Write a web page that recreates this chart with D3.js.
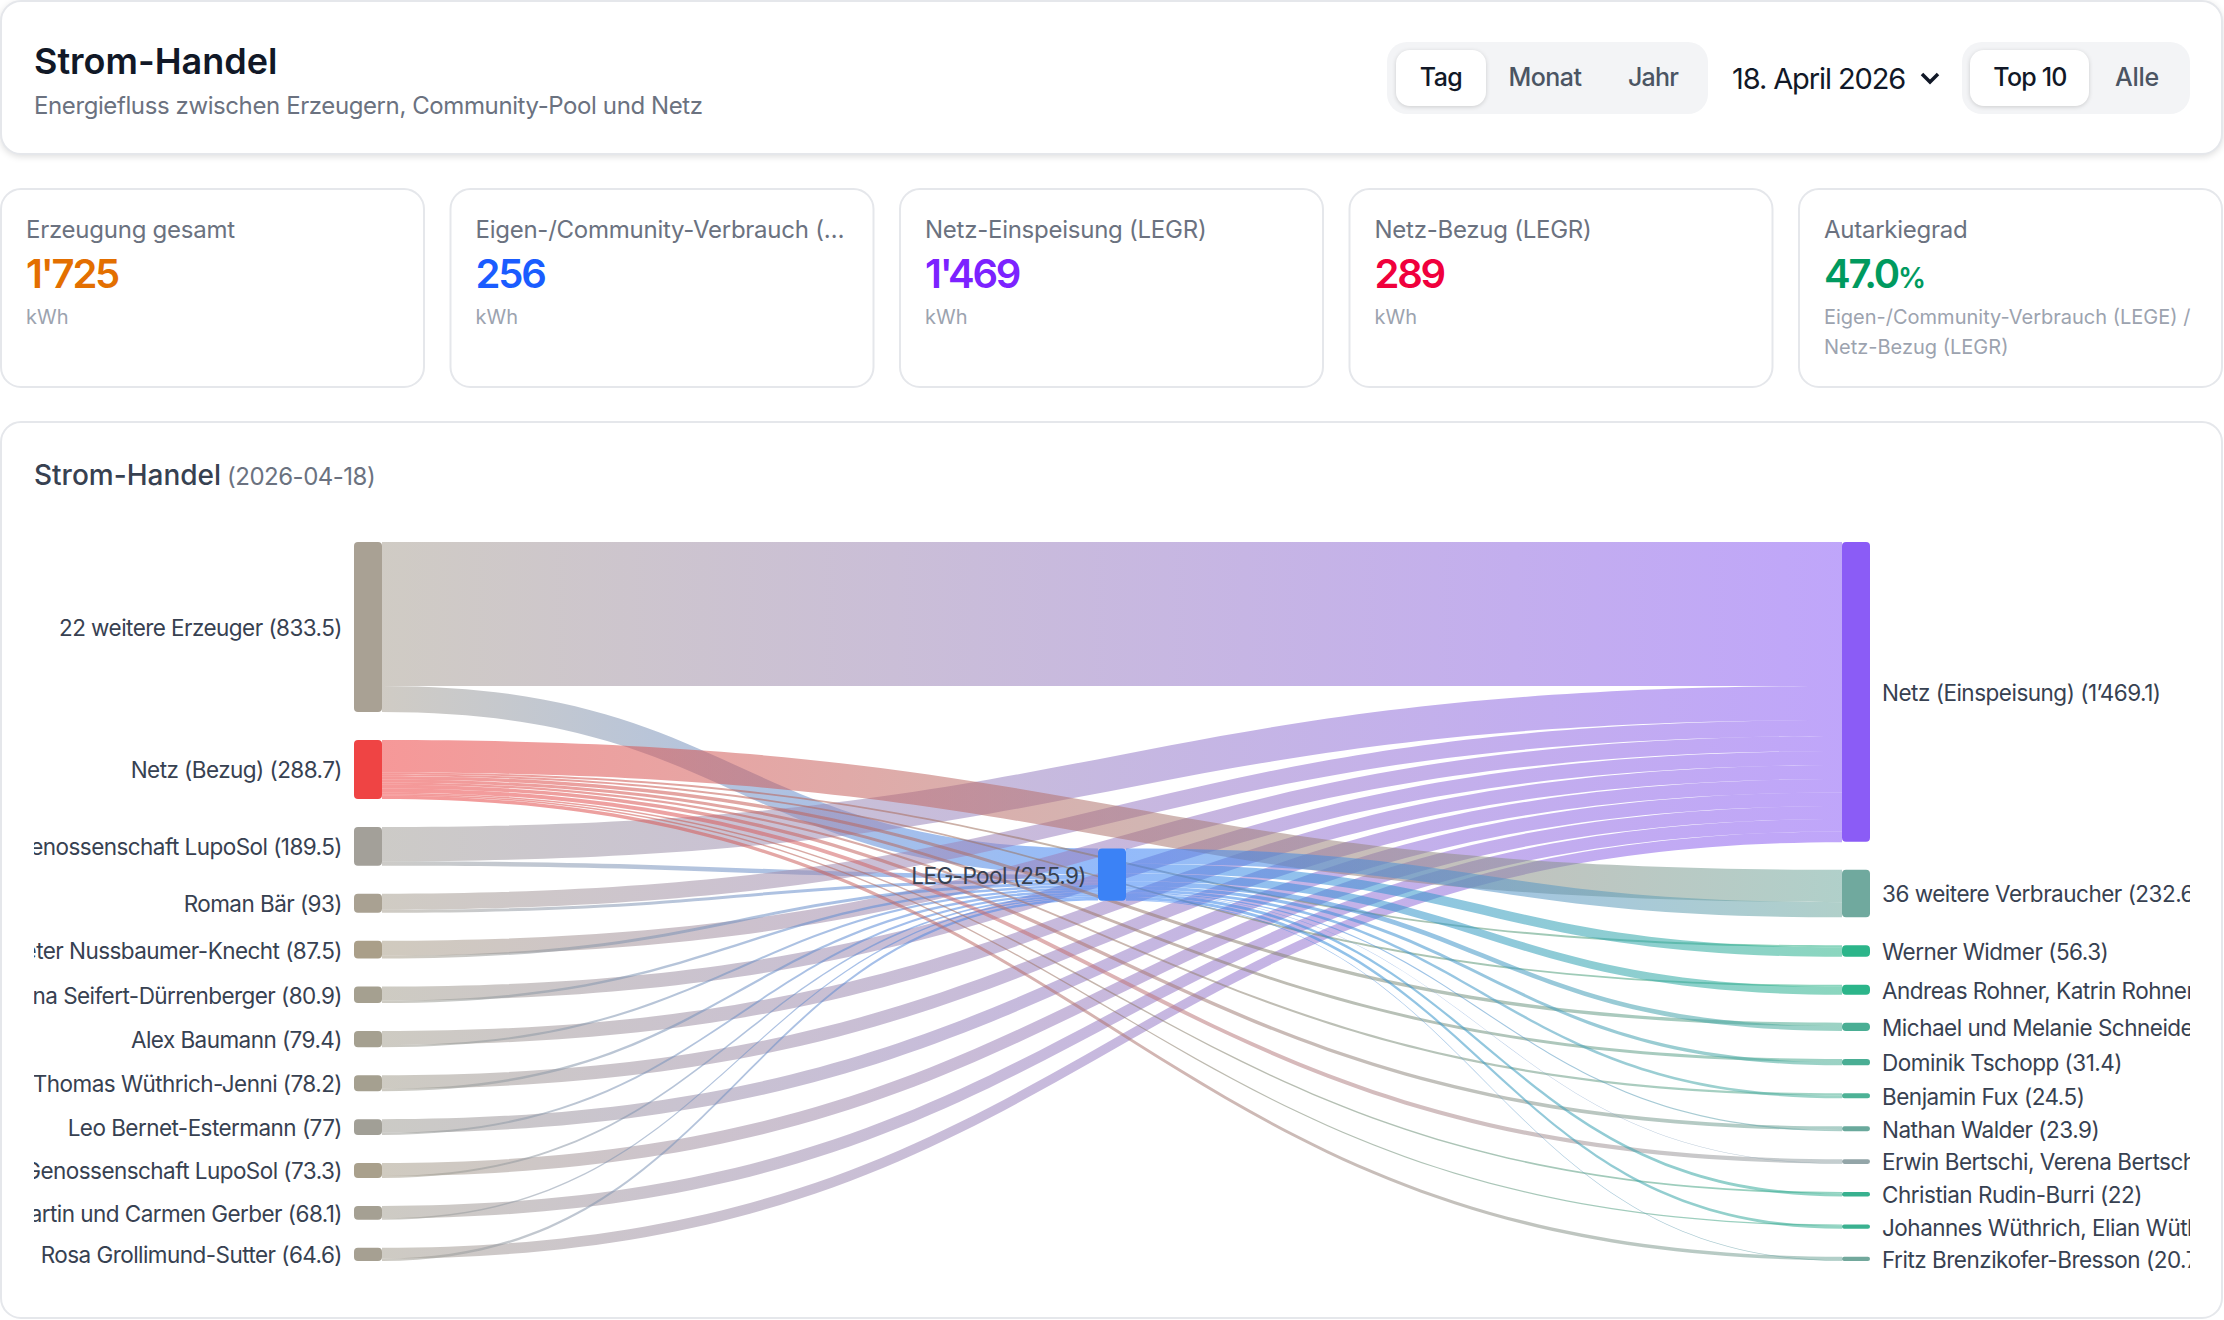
<!DOCTYPE html>
<html lang="de">
<head>
<meta charset="utf-8">
<title>Strom-Handel</title>
<script src="https://cdn.jsdelivr.net/npm/d3@7.9.0/dist/d3.min.js"></script>
<style>
  html, body { margin: 0; background: #fff; }
  svg { display: block; font-family: Inter, "Noto Sans", sans-serif; }
  .card { fill: #fff; stroke: #e5e7eb; stroke-width: 2; }
  .header-card { filter: drop-shadow(0 2px 3px rgba(0, 0, 0, 0.12)); }
  .pill { filter: drop-shadow(0 1px 2px rgba(0, 0, 0, 0.16)); }
</style>
</head>
<body>
<svg id="page" width="2224" height="1320"></svg>
<script>
// kpi cards
const kpiLabels = ["Erzeugung gesamt", "Eigen-/Community-Verbrauch (…", "Netz-Einspeisung (LEGR)", "Netz-Bezug (LEGR)", "Autarkiegrad"];
const kpiValues = ["1'725", "256", "1'469", "289", "47.0"];
const kpiColors = ["#e36f00", "#1a5cff", "#7c22ff", "#f0003c", "#009a5f"];

// left column
const producers = [
  "22 weitere Erzeuger", "Netz (Bezug)", "Genossenschaft LupoSol", "Roman Bär",
  "Peter Nussbaumer-Knecht", "Hanna Seifert-Dürrenberger", "Alex Baumann",
  "Thomas Wüthrich-Jenni", "Leo Bernet-Estermann", "Genossenschaft LupoSol",
  "Martin und Carmen Gerber", "Rosa Grollimund-Sutter",
];
const producerValues = [833.5, 288.7, 189.5, 93, 87.5, 80.9, 79.4, 78.2, 77, 73.3, 68.1, 64.6];
const producerToGrid = [705, 0, 167.7, 78.3, 73.5, 68.6, 68.6, 65.6, 66.6, 63.7, 60.7, 52.4];
const producerToPool = [128.5, 0, 21.8, 14.7, 14, 12.3, 10.8, 12.6, 10.4, 9.6, 7.4, 12.2];
const producerColors = ["#a9a194", "#ef4444", "#a3a099", "#a9a192", "#aa9f89", "#a5a090", "#a5a090", "#a5a090", "#a19f96", "#a9a08c", "#a5a093", "#a6a092"];

// right column, first entry is the grid
const consumers = [
  "Netz (Einspeisung)", "36 weitere Verbraucher", "Werner Widmer", "Andreas Rohner, Katrin Rohner",
  "Michael und Melanie Schneider", "Dominik Tschopp", "Benjamin Fux", "Nathan Walder",
  "Erwin Bertschi, Verena Bertschi", "Christian Rudin-Burri", "Johannes Wüthrich, Elian Wüthrich",
  "Fritz Brenzikofer-Bresson",
];
const consumerValues = [1469.1, 232.6, 56.3, 48.6, 40.2, 31.4, 24.5, 23.9, 23.1, 22, 21.3, 20.7];
const consumerFromBezug = [0, 158.4, 9, 9.2, 16.5, 14.7, 11, 18, 20.5, 7.7, 7, 16.7];
const consumerFromPool = [0, 74.2, 47.3, 39.4, 23.7, 16.7, 13.5, 5.9, 2.6, 14.3, 14.3, 4];
const consumerColors = ["#8b5cf6", "#70a99e", "#2cb58a", "#2cb58a", "#4aae94", "#4aae94", "#4db296", "#6aa99c", "#93a5a8", "#38b18f", "#3ab190", "#72a89c"];

const poolName = "LEG-Pool";
const poolValue = 255.9;
const poolColor = "#3b82f6";

// sankey geometry
const chartTop = 542;
const chartBottom = 1261;
const poolTop = 848.5;
const nodeWidth = 28;
const nodeGap = 28;
const linkOpacity = 0.55;

const svg = d3.select("#page");

function addText(x, y, str, size, weight, color, anchor, spacing) {
  return svg
    .append("text")
    .attr("x", x)
    .attr("y", y)
    .attr("font-size", size)
    .attr("font-weight", weight)
    .attr("fill", color)
    .attr("text-anchor", anchor || "start")
    .attr("letter-spacing", spacing || 0)
    .text(str);
}

function addPanel(x, y, w, h, r, cls) {
  return svg
    .append("rect")
    .attr("class", cls)
    .attr("x", x)
    .attr("y", y)
    .attr("width", w)
    .attr("height", h)
    .attr("rx", r);
}

// header
addPanel(1, 1, 2221, 153, 20, "card header-card");
addText(34, 73.5, "Strom-Handel", 36, 600, "#111827");
addText(34, 113.5, "Energiefluss zwischen Erzeugern, Community-Pool und Netz", 24, 400, "#6b7280", "start", -0.4);

function addSegment(x, w) {
  addPanel(x, 42, w, 72, 20).attr("fill", "#f3f4f6");
}
function addPill(x, w) {
  addPanel(x, 50, w, 56, 14, "pill").attr("fill", "#fff");
}
addSegment(1387, 321);
addPill(1396, 90);
addText(1441, 86, "Tag", 25, 500, "#111827", "middle", -0.5);
addText(1545, 86, "Monat", 25, 500, "#4b5563", "middle", -0.5);
addText(1653, 86, "Jahr", 25, 500, "#4b5563", "middle", -0.8);
addText(1732, 89, "18. April 2026", 29, 400, "#111827", "start", -1.1);
svg
  .append("path")
  .attr("d", d3.line()([[1922, 74], [1930, 82], [1938, 74]]))
  .attr("fill", "none")
  .attr("stroke", "#111827")
  .attr("stroke-width", 3.5);
addSegment(1962, 228);
addPill(1970, 119);
addText(2030, 86, "Top 10", 25, 500, "#111827", "middle", -0.8);
addText(2137, 86, "Alle", 25, 500, "#4b5563", "middle", -0.3);

// kpi row
const kpiX = d3.scaleBand().domain(d3.range(5)).range([0, 2223]).paddingInner(0.0545);
kpiLabels.forEach((label, i) => {
  const x = kpiX(i) + 1;
  addPanel(x, 189, kpiX.bandwidth() - 2, 198, 20, "card");
  addText(x + 25, 238, label, 24, 400, "#6b7280", "start", -0.25);
  const value = addText(x + 25, 288, kpiValues[i], 40, 600, kpiColors[i], "start", -2.2);
  if (i === 4) {
    value.append("tspan").attr("font-size", 28).attr("letter-spacing", -0.5).text("%");
    addText(x + 25, 324, "Eigen-/Community-Verbrauch (LEGE) /", 20, 400, "#9ca3af");
    addText(x + 25, 354, "Netz-Bezug (LEGR)", 20, 400, "#9ca3af");
  } else {
    addText(x + 25, 324, "kWh", 20, 400, "#9ca3af");
  }
});

// chart card
addPanel(1, 422, 2221, 896, 20, "card");
const chartTitle = addText(34, 484.5, "Strom-Handel", 28, 500, "#374151");
chartTitle
  .append("tspan")
  .attr("font-size", 24)
  .attr("font-weight", 400)
  .attr("fill", "#6b7280")
  .attr("dx", 6)
  .attr("letter-spacing", -0.5)
  .text("(2026-04-18)");

// sankey
const totalFlow = d3.sum(producerValues);
const flowHeight = chartBottom - chartTop - (producers.length - 1) * nodeGap;
const flow = d3.scaleLinear().domain([0, totalFlow]).range([0, flowHeight]);
const column = d3.scalePoint().domain(["left", "pool", "right"]).range([354, 1842]);

const fmt = (v) => d3.format(",~f")(v).replace(/,/g, "’");

function stackNodes(names, values, colors, side) {
  let y = chartTop;
  return names.map((name, i) => {
    const node = { name, value: values[i], color: colors[i], side, x: column(side), y, h: flow(values[i]) };
    node.out = node.y;
    node.in = node.y;
    y += node.h + nodeGap;
    return node;
  });
}

const leftNodes = stackNodes(producers, producerValues, producerColors, "left");
const rightNodes = stackNodes(consumers, consumerValues, consumerColors, "right");
const poolNode = { name: poolName, value: poolValue, color: poolColor, side: "pool", x: column("pool"), y: poolTop, h: flow(poolValue) };
poolNode.out = poolNode.y;
poolNode.in = poolNode.y;

const links = [];
function addLink(source, target, value) {
  if (!value) return;
  const h = flow(value);
  links.push({ source, target, h, y0: source.out, y1: target.in });
  source.out += h;
  target.in += h;
}

// each producer fills the grid band first, then the pool
leftNodes.forEach((node, i) => {
  addLink(node, rightNodes[0], producerToGrid[i]);
  addLink(node, poolNode, producerToPool[i]);
});
// on the consumer side bezug sits above the pool
rightNodes.forEach((node, i) => {
  addLink(leftNodes[1], node, consumerFromBezug[i]);
});
rightNodes.forEach((node, i) => {
  addLink(poolNode, node, consumerFromPool[i]);
});

const defs = svg.append("defs");
defs
  .append("clipPath")
  .attr("id", "chart-clip")
  .append("rect")
  .attr("x", 34)
  .attr("y", 500)
  .attr("width", 2156)
  .attr("height", 800);

function bandPath(d) {
  const x0 = d.source.x + nodeWidth;
  const x1 = d.target.x;
  const mid = (x0 + x1) / 2;
  const p = d3.path();
  p.moveTo(x0, d.y0);
  p.bezierCurveTo(mid, d.y0, mid, d.y1, x1, d.y1);
  p.lineTo(x1, d.y1 + d.h);
  p.bezierCurveTo(mid, d.y1 + d.h, mid, d.y0 + d.h, x0, d.y0 + d.h);
  p.closePath();
  return p.toString();
}

links.forEach((d, i) => {
  const grad = defs
    .append("linearGradient")
    .attr("id", `link-${i}`)
    .attr("gradientUnits", "userSpaceOnUse")
    .attr("x1", d.source.x + nodeWidth)
    .attr("x2", d.target.x)
    .attr("y1", 0)
    .attr("y2", 0);
  grad.append("stop").attr("offset", "0%").attr("stop-color", d.source.color);
  grad.append("stop").attr("offset", "100%").attr("stop-color", d.target.color);
});

const chart = svg.append("g").attr("clip-path", "url(#chart-clip)");

chart
  .selectAll("path.link")
  .data(links)
  .join("path")
  .attr("class", "link")
  .attr("d", bandPath)
  .attr("fill", (d, i) => `url(#link-${i})`)
  .attr("fill-opacity", linkOpacity);

const allNodes = [...leftNodes, poolNode, ...rightNodes];

chart
  .selectAll("rect.node")
  .data(allNodes)
  .join("rect")
  .attr("class", "node")
  .attr("x", (d) => d.x)
  .attr("y", (d) => d.y)
  .attr("width", nodeWidth)
  .attr("height", (d) => d.h)
  .attr("rx", (d) => Math.min(4, d.h / 2))
  .attr("fill", (d) => d.color);

chart
  .selectAll("text.node-label")
  .data(allNodes)
  .join("text")
  .attr("class", "node-label")
  .attr("x", (d) => (d.side === "right" ? d.x + nodeWidth + 12 : d.x - 12))
  .attr("y", (d) => d.y + d.h / 2 + 0.8)
  .attr("dy", "0.36em")
  .attr("text-anchor", (d) => (d.side === "right" ? "start" : "end"))
  .attr("font-size", 22.5)
  .attr("letter-spacing", (d) => (d.side === "right" ? -0.5 : -0.55))
  .attr("fill", "#374151")
  .text((d) => `${d.name} (${fmt(d.value)})`);
</script>
</body>
</html>
